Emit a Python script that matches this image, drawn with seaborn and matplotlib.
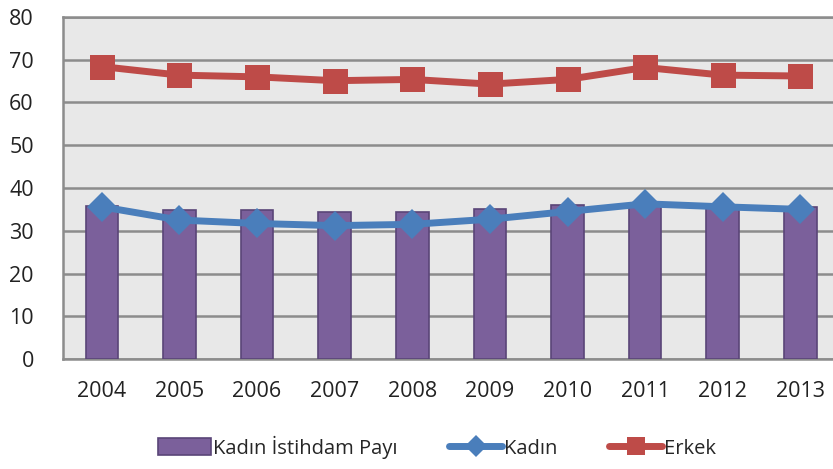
import numpy as np
import pandas as pd
import seaborn as sns
import matplotlib.pyplot as plt
from matplotlib.patches import Patch
from matplotlib.lines import Line2D

# Veriler
yillar = ['2004', '2005', '2006', '2007', '2008', '2009', '2010', '2011', '2012', '2013']
kadin_istihdam_payi = [35.9, 34.9, 34.9, 34.5, 34.5, 35.2, 36.1, 36.0, 35.8, 35.6]
kadin = [35.6, 32.5, 31.7, 31.2, 31.5, 32.7, 34.5, 36.3, 35.6, 35.0]
erkek = [68.4, 66.4, 66.0, 65.1, 65.4, 64.3, 65.4, 68.2, 66.4, 66.2]

df = pd.DataFrame({'yil': yillar, 'pay': kadin_istihdam_payi,
                   'kadin': kadin, 'erkek': erkek})
df['x'] = np.arange(len(df))

sns.set_style('white')
plt.rcParams['font.family'] = ['Open Sans', 'DejaVu Sans']

mor = '#7B609B'
mavi = '#4A7EBB'
kirmizi = '#BE4B48'
gri = '#8C8C8C'

fig = plt.figure(figsize=(8.33, 4.69), dpi=100)
ax = fig.add_axes([63 / 833, 110 / 469, 1 - 63 / 833, 342 / 469])
ax.set_facecolor('#E8E8E8')

sns.barplot(data=df, x='yil', y='pay', color=mor, width=0.42,
            edgecolor='#5A4578', linewidth=1.2, saturation=1, ax=ax, zorder=3)
sns.lineplot(data=df, x='x', y='erkek', color=kirmizi, linewidth=5,
             marker='s', markersize=18, markeredgewidth=0, ax=ax, zorder=4)
sns.lineplot(data=df, x='x', y='kadin', color=mavi, linewidth=5,
             marker='D', markersize=15, markeredgewidth=0, ax=ax, zorder=5)

ax.set_ylim(0, 80)
ax.set_xlim(-0.5, 9.42)
ax.set_yticks(range(0, 81, 10))
ax.yaxis.grid(True, color=gri, linewidth=1.8, zorder=0)
ax.set_axisbelow(True)
for s in ['left', 'bottom', 'top']:
    ax.spines[s].set_color(gri)
    ax.spines[s].set_linewidth(1.8)
ax.spines['right'].set_visible(False)
ax.set_xlabel('')
ax.set_ylabel('')
ax.set_xticks(range(len(yillar)))
ax.set_xticklabels(yillar)
ax.tick_params(axis='both', labelsize=15.5, colors='#222222', length=0)
ax.tick_params(axis='x', pad=16)
ax.tick_params(axis='y', pad=21)

handles = [Patch(facecolor=mor, edgecolor='#5A4578', linewidth=1.2),
           Line2D([], [], color=mavi, linewidth=5, marker='D', markersize=11,
                  markeredgewidth=0, solid_capstyle='round'),
           Line2D([], [], color=kirmizi, linewidth=5, marker='s', markersize=13,
                  markeredgewidth=0, solid_capstyle='round')]
fig.legend(handles, ['Kadın İstihdam Payı', 'Kadın', 'Erkek'],
           loc='center', bbox_to_anchor=(437 / 833, 1 - 447 / 469),
           ncol=3, frameon=False, fontsize=14.5, handlelength=2.6,
           handleheight=0.9, handletextpad=0.1, columnspacing=2.6)

fig.savefig('out.png', dpi=100)
